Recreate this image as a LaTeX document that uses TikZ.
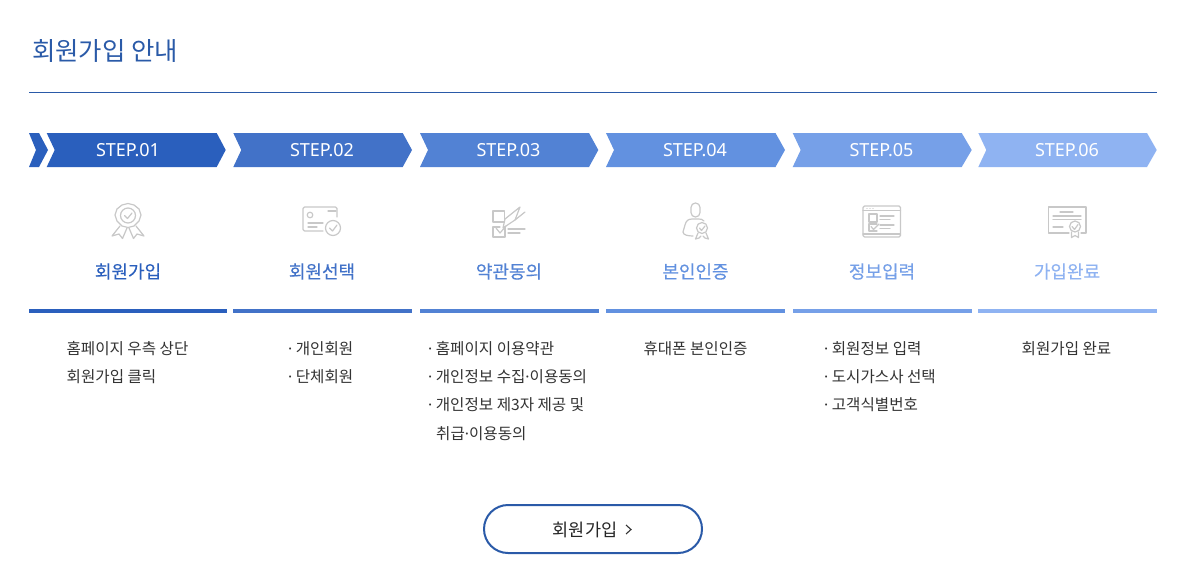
\documentclass[tikz,border=0pt]{standalone}
\usepackage{fontspec}
\setmainfont{Noto Sans CJK KR}
\newfontfamily\krfont{Noto Sans CJK KR}
\newfontfamily\krhead[FakeBold=0.35]{Noto Sans CJK KR}
\newfontfamily\stepfont{Noto Sans}
\newcommand{\dt}{{\stepfont ·}}
\definecolor{c1}{HTML}{2A5FBD}
\definecolor{c2}{HTML}{4272C8}
\definecolor{c3}{HTML}{5282D4}
\definecolor{c4}{HTML}{6291E0}
\definecolor{c5}{HTML}{76A0E8}
\definecolor{c6}{HTML}{8FB3F2}
\definecolor{ruleblue}{HTML}{2A5AA8}
\definecolor{bodytext}{HTML}{333333}
\definecolor{icongray}{HTML}{C8C8C8}
\tikzset{
  steplabel/.style={text=white,font=\stepfont\fontsize{18}{18}\selectfont,inner sep=0pt},
  headlabel/.style={font=\krhead\fontsize{18}{18}\selectfont,inner sep=0pt},
  bodyline/.style={anchor=west,text=bodytext,font=\krfont\fontsize{15.6}{16}\selectfont,inner sep=0pt},
  bodycentre/.style={text=bodytext,font=\krfont\fontsize{15.6}{16}\selectfont,inner sep=0pt},
  iconline/.style={draw=icongray,line width=1.2pt,line cap=round,line join=round,fill=none},
}
\newcommand{\chev}[4]{% left, topright, tip, colour
  \fill[#4] (#1,133) -- (#2,133) -- (#3,150) -- (#2,167) -- (#1,167) -- ({#1+8},150) -- cycle;
}
\begin{document}
\begin{tikzpicture}[x=1pt,y=-1pt]
\useasboundingbox (0,0) rectangle (1182,578);
\fill[white] (0,0) rectangle (1182,578);
% title
\node[anchor=west,text=ruleblue,inner sep=0pt,font=\krfont\fontsize{25.4}{26}\selectfont] (title) at (32,51) {회원가입 안내};
\draw[ruleblue,line width=1pt] (29,92.5) -- (1157,92.5);
% chevrons
\fill[c1] (29,133) -- (39,133) -- (48,150) -- (39,167) -- (29,167) -- (36,150) -- cycle;
\chev{46.7}{216.7}{225.7}{c1}
\chev{233.3}{402.7}{412}{c2}
\chev{420}{589}{598.3}{c3}
\chev{606}{775.5}{785}{c4}
\chev{792.7}{961.7}{971.7}{c5}
\chev{978.3}{1147}{1156.7}{c6}
\node[steplabel] (s1) at (128,150.500) {STEP.01};
\node[steplabel] (s2) at (322,150.500) {STEP.02};
\node[steplabel] (s3) at (508.500,150.500) {STEP.03};
\node[steplabel] (s4) at (695,150.500) {STEP.04};
\node[steplabel] (s5) at (881.500,150.500) {STEP.05};
\node[steplabel] (s6) at (1067,150.500) {STEP.06};
% headings
\node[headlabel,text=c1] (h1) at (128,271.500) {회원가입};
\node[headlabel,text=c2] (h2) at (322,271.500) {회원선택};
\node[headlabel,text=c3] (h3) at (509,271.500) {약관동의};
\node[headlabel,text=c4] (h4) at (695.500,271.500) {본인인증};
\node[headlabel,text=c5] (h5) at (882,271.500) {정보입력};
\node[headlabel,text=c6] (h6) at (1067,271.500) {가입완료};
% bars
\fill[c1] (29,309) rectangle (227,312.500);
\fill[c2] (233.300,309) rectangle (412,312.500);
\fill[c3] (420,309) rectangle (598.500,312.500);
\fill[c4] (606,309) rectangle (785,312.500);
\fill[c5] (792.700,309) rectangle (971.700,312.500);
\fill[c6] (978.300,309) rectangle (1157,312.500);
% body
\node[bodycentre] (b11) at (127.500,349) {홈페이지 우측 상단};
\node[bodycentre] (b12) at (111.500,377) {회원가입 클릭};
\node[bodyline] (b21) at (288,349) {\dt{} 개인회원};
\node[bodyline] (b22) at (288,377) {\dt{} 단체회원};
\node[bodyline] (b31) at (428,349) {\dt{} 홈페이지 이용약관};
\node[bodyline] (b32) at (428,377) {\dt{} 개인정보 수집\dt{}이용동의};
\node[bodyline] (b33) at (428,405) {\dt{} 개인정보 제3자 제공 및};
\node[bodyline] (b34) at (436,434) {취급\dt{}이용동의};
\node[bodycentre] (b41) at (695.500,349) {휴대폰 본인인증};
\node[bodyline] (b51) at (824,349) {\dt{} 회원정보 입력};
\node[bodyline] (b52) at (824,377) {\dt{} 도시가스사 선택};
\node[bodyline] (b53) at (824,405) {\dt{} 고객식별번호};
\node[bodycentre] (b61) at (1066.500,349) {회원가입 완료};
% button
\draw[ruleblue,line width=2pt,fill=white,rounded corners=24pt] (484,505) rectangle (702,553);
\node[inner sep=0pt,text=black!85,font=\krfont\fontsize{17.5}{18}\selectfont] (btn) at (585,529.500) {회원가입};
\draw[black!80,line width=1.1pt] (626,525) -- (631,529.500) -- (626,534);
\begin{scope}[iconline]
% icon 1: rosette
\draw (122,205) -- (128,203.500) -- (134,205) -- (139,209) -- (141,215) -- (139,221) -- (134,226) -- (128,227.500) -- (122,226) -- (117,221) -- (115,215) -- (117,209) -- cycle;
\draw (128,215.500) circle (7.500);
\draw (124.500,215.500) -- (127.500,218.500) -- (132,213);
\draw (120,226) -- (112,236) -- (119,234) -- (122.500,238.500) -- (127,228);
\draw (136,226) -- (144,236) -- (137,234) -- (133.500,238.500) -- (129,228);
% icon 2: card
\draw[rounded corners=1.5pt] (337,217) -- (337,207) -- (303,207) -- (303,231) -- (323,231);
\draw (310,215) circle (2.800);
\draw (328,211) -- (336,211);
\draw (308,223) -- (323,223);
\draw (308,227) -- (317,227);
\draw (333,228) circle (7.500);
\draw (329.500,228) -- (332.500,231) -- (337,225);
% icon 3: checklist + pen
\draw (493,211) rectangle (504.500,222);
\draw (505,227) -- (505,237) -- (493,237) -- (493,227) -- (500,227);
\draw (496,228) -- (500,233) -- (506,226);
\draw (508,229) -- (525,229);
\draw (508,233) -- (520,233);
\draw (503,228) -- (505,219) -- (520,207) -- (515,220) -- cycle;
\draw (515,220) -- (525,212);
% icon 4: user + badge
\draw[rounded corners=4.400pt] (691,203) rectangle (700,217);
\draw (704,221) .. controls (703,219) and (700,219) .. (698,219) -- (692,219) .. controls (688,219) and (686,221) .. (685,225) -- (683,232) .. controls (683,235) and (688,236) .. (693,236);
\draw (702,228) circle (5.500);
\draw (699.500,228) -- (701.500,230.500) -- (705,226);
\draw (698,233) -- (695.500,239) -- (699,238) -- (701,236);
\draw (706,233) -- (708.500,239) -- (705,238) -- (703,236);
% icon 5: window
\draw[rounded corners=1.5pt] (863,206) rectangle (900.500,237);
\draw (863,210.700) -- (900.500,210.700);
\draw (863,234) -- (900.500,234);
\draw (867,208.300) -- (867.100,208.300);
\draw (870,208.300) -- (870.100,208.300);
\draw (873,208.300) -- (873.100,208.300);
\draw (869,214) rectangle (877,222);
\draw (877,224) -- (869,224) -- (869,231) -- (877,231);
\draw (871,226.500) -- (873.500,229.500) -- (879,224);
\draw (880,216) -- (894,216);
\draw (880,219.500) -- (890,219.500);
\draw (880,225) -- (894,225);
\draw (880,228.500) -- (890,228.500);
% icon 6: certificate
\draw (1069,233) -- (1048.500,233) -- (1048.500,207) -- (1086,207) -- (1086,233) -- (1081,233);
\draw (1060,212) -- (1073,212);
\draw (1053,216) -- (1081,216);
\draw (1053,219.500) -- (1081,219.500);
\draw (1053,227) -- (1063,227);
\draw (1075,226.500) circle (5.500);
\draw (1072,226.500) -- (1074.500,229.500) -- (1078,224.500);
\draw (1071.500,232) -- (1071.500,237.500) -- (1075,235.500) -- (1078.500,237.500) -- (1078.500,232);
\end{scope}
\end{tikzpicture}
\end{document}
